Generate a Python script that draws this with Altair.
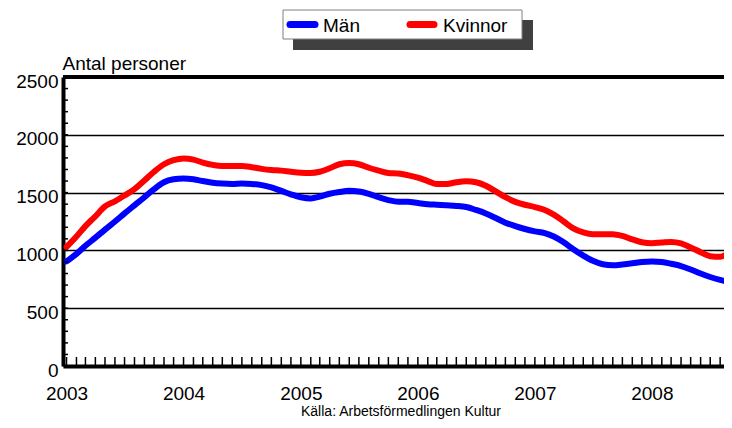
import altair as alt
import pandas as pd

# ---- data ----
months = pd.date_range("2003-01-01", periods=70, freq="MS")
man = [905, 970, 1040, 1110, 1180, 1250, 1320, 1390, 1460, 1530,
       1590, 1615, 1622, 1615, 1600, 1585, 1578, 1575, 1578, 1575,
       1565, 1545, 1515, 1485, 1460, 1450, 1465, 1490, 1505, 1515,
       1510, 1490, 1460, 1435, 1420, 1420, 1410, 1400, 1395, 1390,
       1385, 1375, 1350, 1320, 1280, 1240, 1210, 1185, 1165, 1150,
       1120, 1070, 1010, 955, 910, 880, 872, 878, 888, 900,
       905, 900, 885, 865, 835, 800, 770, 745, 725, 715]
kvinnor = [1030, 1120, 1210, 1295, 1380, 1425, 1475, 1530, 1605, 1680,
           1745, 1780, 1795, 1785, 1760, 1740, 1730, 1730, 1730, 1720,
           1705, 1695, 1690, 1680, 1672, 1670, 1680, 1710, 1745, 1755,
           1745, 1715, 1690, 1670, 1665, 1650, 1630, 1600, 1575, 1575,
           1590, 1598, 1590, 1560, 1510, 1460, 1420, 1395, 1375, 1350,
           1310, 1250, 1190, 1155, 1140, 1140, 1140, 1125, 1095, 1070,
           1062, 1068, 1073, 1060, 1025, 985, 950, 945, 985, 1030]
series_names = ["Män", "Kvinnor"]
series_colors = ["#0000FF", "#FF0000"]
year_labels = [2003, 2004, 2005, 2006, 2007, 2008]
y_major = [0, 500, 1000, 1500, 2000, 2500]
y_minor = list(range(100, 2500, 100))
month_ticks = pd.date_range("2003-01-01", "2008-08-01", freq="MS")
y_title = "Antal personer"
source_text = "Källa: Arbetsförmedlingen Kultur"

FONT = "Liberation Sans"
W, H = 661, 289

df = pd.concat([
    pd.DataFrame({"date": months, "value": man, "series": series_names[0]}),
    pd.DataFrame({"date": months, "value": kvinnor, "series": series_names[1]}),
])

xscale = alt.Scale(domain=[alt.DateTime(year=2002, month=12, date=21),
                           alt.DateTime(year=2008, month=8, date=13)])
yscale = alt.Scale(domain=[0, 2500], nice=False, zero=True)

x_axis = alt.Axis(
    values=[alt.DateTime(year=y, month=1, date=1) for y in year_labels],
    format="%Y", title=None, ticks=False, grid=False,
    domainColor="black", domainWidth=4,
    labelFont=FONT, labelFontSize=19, labelColor="black",
    labelBaseline="middle", labelPadding=27,
    labelFlush=False, labelOverlap=False, labelBound=False)
y_axis = alt.Axis(
    values=y_major, format="d", title=y_title, ticks=False, grid=True,
    gridColor="black", gridWidth=1.5, gridOpacity=1,
    domainColor="black", domainWidth=4,
    labelFont=FONT, labelFontSize=19, labelColor="black",
    labelBaseline="middle", labelPadding=5, labelOffset=4,
    labelFlush=False, labelOverlap=False, labelBound=False,
    titleFont=FONT, titleFontSize=19, titleFontWeight="normal",
    titleColor="black", titleAngle=0, titleAlign="left",
    titleBaseline="alphabetic", titleX=-1, titleY=-8)

lines = alt.Chart(df).mark_line(
    strokeWidth=6, strokeCap="round", strokeJoin="round",
    interpolate="monotone", clip=True
).encode(
    x=alt.X("date:T", scale=xscale, axis=x_axis),
    y=alt.Y("value:Q", scale=yscale, axis=y_axis),
    color=alt.Color("series:N", scale=alt.Scale(domain=series_names, range=series_colors),
                    legend=None),
    detail="series:N",
)

# top frame line
one = pd.DataFrame({"a": [0]})
top_rule = alt.Chart(one).mark_rule(color="black", strokeWidth=4).encode(
    x=alt.value(0), x2=alt.value(W), y=alt.value(0))

# minor y ticks (inward)
ytick = alt.Chart(pd.DataFrame({"value": y_minor})).mark_rule(
    color="black", strokeWidth=1.5
).encode(y=alt.Y("value:Q", scale=yscale, axis=y_axis), x=alt.value(0), x2=alt.value(5))

# monthly x ticks (inward)
xtick = alt.Chart(pd.DataFrame({"date": month_ticks})).mark_rule(
    color="black", strokeWidth=1.5
).encode(x=alt.X("date:T", scale=xscale, axis=x_axis), y=alt.value(H), y2=alt.value(H - 9))

shadow = alt.Chart(one).mark_rect(color="#404040").encode(
    x=alt.value(230), x2=alt.value(470), y=alt.value(-57), y2=alt.value(-27))
box = alt.Chart(one).mark_rect(fill="white", stroke="#808080", strokeWidth=1).encode(
    x=alt.value(220), x2=alt.value(459), y=alt.value(-67), y2=alt.value(-38))

legend_layers = []
sym_x = [(227, 252), (347, 371)]
txt_x = [260, 380]
for i, name in enumerate(series_names):
    legend_layers.append(
        alt.Chart(one).mark_rule(color=series_colors[i], strokeWidth=7, strokeCap="round").encode(
            x=alt.value(sym_x[i][0]), x2=alt.value(sym_x[i][1]), y=alt.value(-52.5)))
    legend_layers.append(
        alt.Chart(pd.DataFrame({"t": [name]})).mark_text(
            font=FONT, fontSize=19, color="black", align="left", baseline="middle").encode(
            text="t:N", x=alt.value(txt_x[i]), y=alt.value(-51)))

source = alt.Chart(pd.DataFrame({"t": [source_text]})).mark_text(
    font=FONT, fontSize=14, color="black", align="center", baseline="middle"
).encode(text="t:N", x=alt.value(338), y=alt.value(335))

chart = alt.layer(
    lines, top_rule, ytick, xtick, shadow, box, *legend_layers, source
).properties(
    width=W, height=H,
    autosize=alt.AutoSizeParams(type="none"),
    padding={"left": 55, "top": 69, "right": 0, "bottom": 54},
    background="white",
).configure_view(stroke=None)

chart.save("out.html", embed_options={"renderer": "svg", "actions": False})
